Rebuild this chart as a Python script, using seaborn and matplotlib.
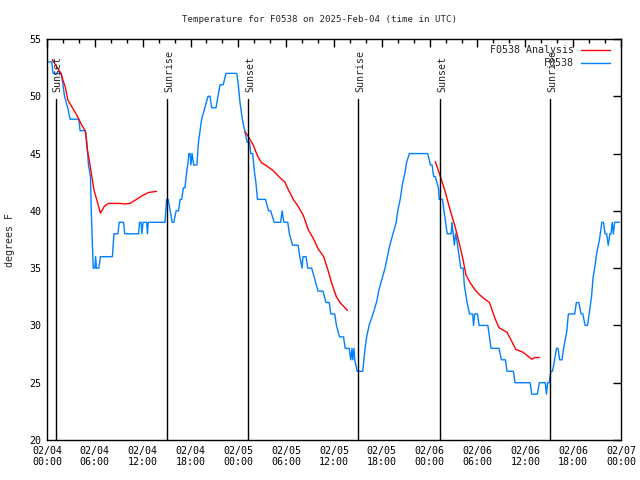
import matplotlib
matplotlib.use("Agg")
import matplotlib.pyplot as plt
import seaborn as sns
import pandas as pd
from matplotlib.ticker import MultipleLocator, FixedLocator

# ---------------- data (hours since 2025-02-04 00:00 UTC) ----------------
obs_hours = [0.0, 0.6, 0.75, 1.8, 2.2, 2.6, 2.9, 4.0, 4.15, 4.8, 5.0, 5.2, 5.45, 5.55, 5.7, 5.8,
             6.0, 6.1, 6.2, 6.5, 6.7, 8.2, 8.4, 8.9, 9.05, 9.6, 9.75, 11.5, 11.6, 11.8, 11.9,
             12.05, 12.5, 12.6, 12.7, 14.8, 15.0, 15.2, 15.45, 15.7, 15.9, 16.2, 16.5, 16.7,
             16.9, 17.1, 17.3, 17.45, 17.65, 17.8, 17.95, 18.05, 18.2, 18.4, 18.8, 19.0, 19.4,
             19.8, 20.2, 20.45, 20.65, 21.2, 21.45, 21.7, 22.1, 22.45, 23.8, 24.0, 24.2, 24.5,
             24.8, 25.1, 25.4, 25.55, 25.8, 26.0, 26.2, 26.4, 27.4, 27.8, 28.05, 28.5, 29.3,
             29.5, 29.7, 30.2, 30.4, 30.8, 31.5, 31.7, 32.0, 32.1, 32.5, 32.7, 33.2, 33.6,
             34.0, 34.6, 35.0, 35.4, 35.6, 36.1, 36.3, 36.7, 37.2, 37.4, 37.9, 38.1, 38.25,
             38.35, 38.5, 38.6, 38.9, 39.6, 39.9, 40.1, 40.4, 40.9, 41.4, 41.6, 42.0, 42.4,
             42.7, 43.0, 43.4, 43.8, 44.0, 44.3, 44.6, 44.9, 45.1, 45.45, 47.75, 48.1, 48.3,
             48.5, 48.7, 49.1, 49.2, 49.6, 49.8, 50.0, 50.2, 50.4, 50.7, 50.8, 50.95, 51.1,
             51.25, 51.4, 51.7, 51.9, 52.2, 52.35, 52.7, 53.0, 53.4, 53.5, 53.65, 54.0, 54.2,
             55.3, 55.5, 55.7, 56.7, 57.0, 57.5, 57.7, 58.5, 58.7, 60.6, 60.8, 61.5, 61.75,
             62.5, 62.65, 62.8, 63.0, 63.2, 63.4, 63.6, 63.9, 64.1, 64.3, 64.6, 64.8, 65.2,
             65.4, 66.2, 66.4, 66.7, 67.0, 67.2, 67.5, 67.8, 68.1, 68.3, 68.5, 68.7, 68.95,
             69.3, 69.6, 69.8, 70.0, 70.2, 70.4, 70.6, 70.75, 70.9, 71.05, 71.2, 71.6, 71.8]
obs_temps = [53, 53, 52, 52, 50, 49, 48, 48, 47, 47, 46, 44, 43, 40, 37, 35,
             35, 36, 35, 35, 36, 36, 38, 38, 39, 39, 38, 38, 39, 39, 38,
             39, 39, 38, 39, 39, 41, 41, 40, 39, 39, 40, 40, 41,
             41, 42, 42, 43, 44, 45, 45, 44, 45, 44, 44, 46, 48,
             49, 50, 50, 49, 49, 50, 51, 51, 52, 52, 51, 49.5, 48,
             47, 46, 46, 45, 45, 43.5, 42.5, 41, 41, 40, 40, 39, 39,
             40, 39, 39, 38, 37, 37, 36, 35, 36, 36, 35, 35, 34,
             33, 33, 32, 32, 31, 31, 30, 29, 29, 28, 28, 27, 28,
             27, 28, 27, 26, 26, 28, 29, 30, 31, 32.2, 33, 34, 35,
             36, 37, 38, 39, 40, 41, 42.4, 43.3, 44.2, 45, 45, 44, 44,
             43, 43, 42, 41, 41, 40, 39, 38, 38, 38, 39, 38, 37,
             38, 37.5, 36, 35, 35, 33.5, 32, 31, 31, 30, 31, 31, 30,
             30, 29, 28, 28, 27, 27, 26, 26, 25, 25, 24, 24, 25,
             25, 24, 25, 25, 26, 26, 26.7, 28, 28, 27, 27, 28, 29.5,
             31, 31, 32, 32, 31, 31, 30, 30, 31.5, 32.5, 34.2, 35, 36.3,
             37.5, 39, 39, 38, 38, 37, 38, 38, 39, 38, 39, 39, 39]

ana1_hours = [0.67, 1.2, 1.75, 2.0, 2.3, 2.6, 3.1, 3.7, 4.35, 4.85, 5.0, 5.4, 5.6, 5.9, 6.35,
              6.7, 7.2, 7.7, 9.15, 9.8, 10.4, 11.0, 11.9, 12.7, 13.75]
ana1_temps = [53.2, 52.6, 52.0, 51.4, 50.8, 49.7, 49.1, 48.4, 47.5, 46.9, 45.6, 44.0, 43.1,
              41.8, 40.7, 39.8, 40.4, 40.65, 40.65, 40.6, 40.65, 40.9, 41.3, 41.6, 41.7]
ana2_hours = [24.84, 25.25, 25.9, 26.4, 26.9, 27.5, 28.4, 29.2, 29.85, 30.3, 30.9, 31.5, 32.15,
              32.8, 33.4, 34.0, 34.7, 35.3, 35.7, 36.3, 36.75, 37.7]
ana2_temps = [46.9, 46.5, 45.7, 44.8, 44.2, 43.95, 43.5, 42.9, 42.5, 41.8, 41.0, 40.4, 39.6,
              38.3, 37.6, 36.7, 36.0, 34.7, 33.7, 32.5, 32.0, 31.3]
ana3_hours = [48.7, 49.3, 49.9, 50.55, 51.2, 51.8, 52.2, 52.55, 53.1, 53.7, 54.3, 54.9, 55.5,
              56.2, 56.7, 57.7, 58.3, 58.8, 59.6, 60.2, 60.8, 61.2, 61.75]
ana3_temps = [44.3, 43.1, 41.8, 40.1, 38.6, 36.9, 35.7, 34.4, 33.7, 33.1, 32.65, 32.3, 32.0,
              30.6, 29.8, 29.4, 28.6, 27.9, 27.7, 27.4, 27.05, 27.2, 27.2]

sun_hours = [1.15, 15.1, 25.27, 39.05, 49.35, 63.15]
sun_labels = ["Sunset", "Sunrise", "Sunset", "Sunrise", "Sunset", "Sunrise"]

tick_hours = [0, 6, 12, 18, 24, 30, 36, 42, 48, 54, 60, 66, 72]
tick_labels = ["02/04\n00:00", "02/04\n06:00", "02/04\n12:00", "02/04\n18:00",
               "02/05\n00:00", "02/05\n06:00", "02/05\n12:00", "02/05\n18:00",
               "02/06\n00:00", "02/06\n06:00", "02/06\n12:00", "02/06\n18:00",
               "02/07\n00:00"]
y_ticks = [20, 25, 30, 35, 40, 45, 50, 55]

title = "Temperature for F0538 on 2025-Feb-04 (time in UTC)"
ylabel = "degrees F"
legend_labels = ["F0538 Analysis", "F0538"]

# ---------------- styling ----------------
sns.set_style("white")
plt.rcParams["font.family"] = ["DejaVu Sans Mono"]
plt.rcParams["font.size"] = 7

BLUE = "#0080ff"
RED = "#ff0000"

fig = plt.figure(figsize=(6.4, 4.8), dpi=100)
ax = fig.add_axes([47 / 640, 40 / 480, 574 / 640, 401 / 480])

obs = pd.DataFrame({"hour": obs_hours, "temp": obs_temps})
sns.lineplot(data=obs, x="hour", y="temp", color=BLUE, lw=1.0, estimator=None,
             sort=False, ax=ax)
for hh, tt in [(ana1_hours, ana1_temps), (ana2_hours, ana2_temps), (ana3_hours, ana3_temps)]:
    d = pd.DataFrame({"hour": hh, "temp": tt})
    sns.lineplot(data=d, x="hour", y="temp", color=RED, lw=1.0, estimator=None,
                 sort=False, ax=ax)

for h, lab in zip(sun_hours, sun_labels):
    ax.plot([h, h], [0, 0.85], color="black", lw=1.0, transform=ax.get_xaxis_transform())
    ax.text(h + 0.2, 0.868, lab, rotation=90, ha="center", va="bottom",
            transform=ax.get_xaxis_transform(), fontsize=7.2)

ax.set_xlim(0, 72)
ax.set_ylim(20, 55)
ax.xaxis.set_major_locator(FixedLocator(tick_hours))
ax.set_xticklabels(tick_labels)
ax.xaxis.set_minor_locator(MultipleLocator(2))
ax.set_yticks(y_ticks)
ax.tick_params(which="both", direction="in", top=True, right=True, width=1.0,
               labelsize=7.2, colors="black")
ax.tick_params(which="major", length=6, pad=4)
ax.tick_params(which="minor", length=3)
for s in ax.spines.values():
    s.set_linewidth(1.0)
    s.set_color("black")
ax.set_xlabel("")
ax.set_ylabel("")

fig.text(10 / 640, 1 - 240 / 480, ylabel, rotation=90, ha="center", va="center", fontsize=7.2)
fig.text(320 / 640, 1 - 19 / 480, title, ha="center", va="center", fontsize=6.6)

# legend (gnuplot-style: right-aligned text, sample to the right)
for i, (lab, col) in enumerate(zip(legend_labels, [RED, BLUE])):
    yy = 0.9726 - i * 0.0325
    ax.text(0.918, yy, lab, ha="right", va="center", transform=ax.transAxes, fontsize=7.2)
    ax.plot([0.930, 0.981], [yy, yy], color=col, lw=1.0, transform=ax.transAxes)

fig.savefig("out.png", dpi=100)
